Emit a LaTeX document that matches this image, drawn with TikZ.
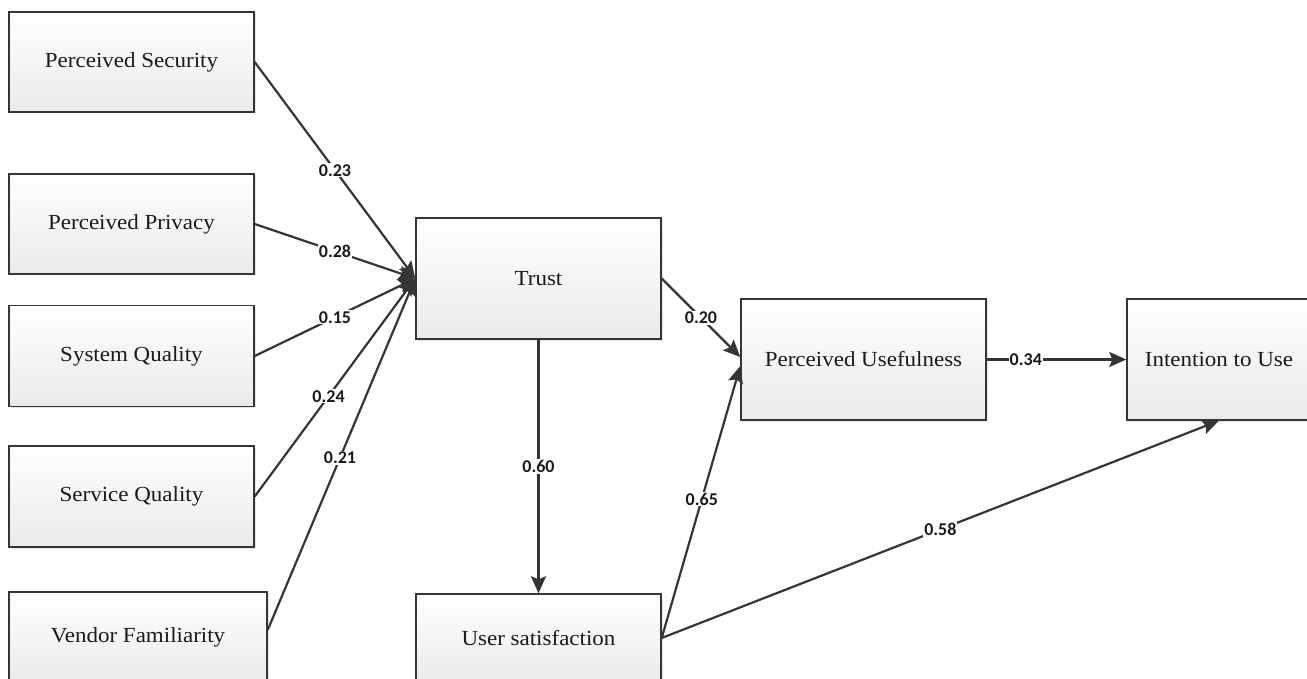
\documentclass[tikz,border=0pt]{standalone}
\usepackage{fontspec}
\setmainfont{Liberation Serif}[FakeStretch=1.07]
\newfontfamily\lblfont{Carlito}
\usetikzlibrary{arrows.meta,shadows}
\definecolor{edgecol}{HTML}{353535}
\definecolor{txtcol}{HTML}{1A1A1A}
\begin{document}
\begin{tikzpicture}[x=1pt,y=-1pt,
  box/.style={draw=edgecol, line width=1.4pt, top color=white, bottom color=black!8,
    inner sep=0pt, font=\fontsize{21.5}{24}\selectfont, text=txtcol,
    drop shadow={shadow xshift=1.5pt,shadow yshift=-1.5pt,opacity=0.2}},
  link/.style={draw=edgecol, line width=2.2pt, -{Stealth[length=17pt,width=15pt,inset=3pt]}},
  coef/.style={font=\lblfont\bfseries\fontsize{18}{18}\selectfont, fill=white, inner sep=1pt, text=txtcol}]
\useasboundingbox (0,0) rectangle (1307,679);
% boxes
\node[box, minimum width=245pt, minimum height=100pt] (ps) at (131.5,62) {Perceived Security};
\node[box, minimum width=245pt, minimum height=100pt] (pp) at (131.5,224) {Perceived Privacy};
\node[box, minimum width=245pt, minimum height=101pt] (sq) at (131.5,356) {System Quality};
\node[box, minimum width=245pt, minimum height=101pt] (svq) at (131.5,496.5) {Service Quality};
\node[box, minimum width=258pt, minimum height=90pt] (vf) at (138,637) {Vendor Familiarity};
\node[box, minimum width=245pt, minimum height=121pt] (tr) at (538.5,278.5) {Trust};
\node[box, minimum width=245pt, minimum height=121pt] (pu) at (863.5,359.5) {Perceived Usefulness};
\node[box, minimum width=184pt, minimum height=121pt] (itu) at (1219,359.5) {Intention to Use};
\node[box, minimum width=245pt, minimum height=88pt] (us) at (538.5,638) {User satisfaction};
% connectors
\draw[link] (ps.east) -- node[coef,pos=0.5]{0.23} (tr.west);
\draw[link] (pp.east) -- node[coef,pos=0.5]{0.28} (tr.west);
\draw[link] (sq.east) -- node[coef,pos=0.5]{0.15} (tr.west);
\draw[link] (svq.east) -- node[coef,pos=0.46]{0.24} (tr.west);
\draw[link] ([yshift=7pt]vf.east) -- node[coef,pos=0.49]{0.21} (tr.west);
\draw[link] (tr.east) -- node[coef,pos=0.5]{0.20} ([yshift=2.5pt]pu.west);
\draw[link] (pu.east) -- node[coef,pos=0.28]{0.34} (itu.west);
\draw[link] (tr.south) -- node[coef,pos=0.5]{0.60} (us.north);
\draw[link] (us.east) -- node[coef,pos=0.51]{0.65} ([yshift=-6.5pt]pu.west);
\draw[link] (us.east) -- node[coef,pos=0.5]{0.58} (itu.south);
\end{tikzpicture}
\end{document}
